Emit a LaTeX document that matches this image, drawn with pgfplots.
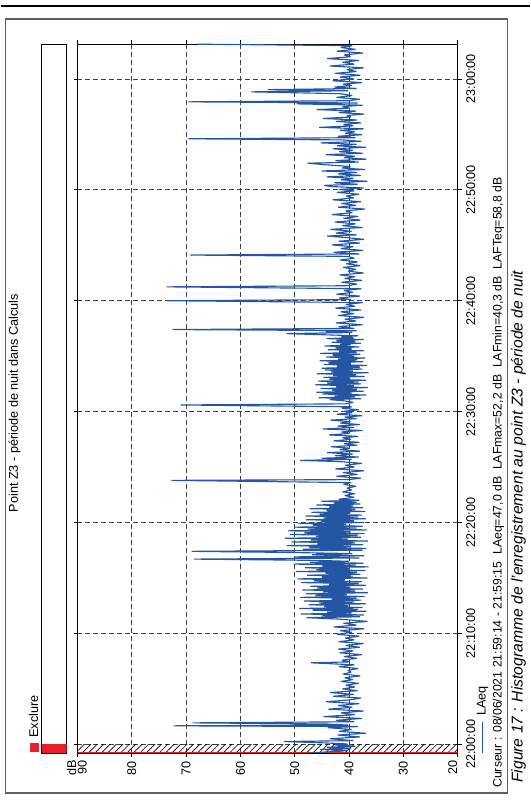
\documentclass[border=0pt]{standalone}
\usepackage{fontspec}
\setmainfont{Liberation Sans}
\usepackage{pgfplots}
\pgfplotsset{compat=1.18}
\usetikzlibrary{patterns.meta}
\definecolor{lineblue}{HTML}{2456A4}
\definecolor{exred}{HTML}{E8202A}
\definecolor{gridgrey}{HTML}{404040}
\definecolor{framegrey}{HTML}{606060}

\begin{document}
\rotatebox{90}{%
\begin{tikzpicture}
\begin{scope}[x=0.75pt,y=0.75pt]
\path[use as bounding box] (0,0) rectangle (803,529);
\end{scope}

% main LAeq chart
\begin{axis}[
  at={(37.5pt,54pt)}, anchor=south west,
  scale only axis, width=531.75pt, height=285pt,
  xmin=-47, xmax=3789, ymin=20, ymax=90,
  xtick={0,600,...,3600},
  xticklabels={22:00:00,22:10:00,22:20:00,22:30:00,22:40:00,22:50:00,23:00:00},
  ytick={20,30,...,90},
  yticklabels={,30,40,50,60,70,80,},
  grid=major,
  grid style={gridgrey, line width=0.6pt, dash pattern=on 3.75pt off 2.25pt},
  tick align=outside, major tick length=3pt,
  tick style={black, line width=0.5pt},
  axis line style={black, line width=0.6pt},
  tick label style={font=\fontsize{9.5}{11}\selectfont},
  /pgf/number format/assume math mode=true,
]
\addplot[draw=none, pattern={Lines[angle=45,distance=3.4pt,line width=0.5pt]}]
  coordinates {(-47,20) (0,20) (0,90) (-47,90)} -- cycle;
\addplot[exred, line width=0.9pt] coordinates {(-46,20) (-46,90)};
\addplot[lineblue, line width=0.85pt, line join=bevel] coordinates {
(-46,47.0) (-40,43.2) (-34,40.1) (-28,45.3) (-22,39.6) (-16,44.0) (-10,38.8) (-4,42.5)
(2,40.3) (8,44.8) (15,52.0) (20,39.2) (30,43.5) (40,38.0) (50,42.1) (60,36.9) (70,41.8)
(80,39.5) (90,43.9) (96,38.3) (100,72.3) (104,40.1) (110,44.3) (116,68.8) (122,39.0)
(130,42.4) (140,37.6) (150,44.7) (160,38.9) (170,41.5) (180,37.3) (190,43.8) (200,39.4)
(210,42.0) (220,38.1) (230,44.2) (240,40.0) (250,37.8) (260,42.9) (270,39.1) (280,43.5)
(290,38.4) (300,41.2) (310,38.9) (320,40.6) (330,38.2) (340,41.5) (350,39.3) (360,40.8)
(370,37.9) (380,41.1) (390,39.6) (400,40.2) (410,38.3) (420,41.8) (430,39.0) (441,47.0)
(446,39.8) (455,41.3) (465,38.5) (475,40.9) (485,37.6) (495,41.7) (505,39.2) (515,42.0)
(525,38.0) (535,40.6) (545,37.3) (555,41.9) (565,39.0) (575,40.7) (585,38.1) (595,42.2)
(606,39.5) (615,41.6) (625,37.2) (635,42.8) (645,38.6) (655,41.0) (665,36.6) (678,42.1)
(685,47.8) (690,38.0) (695,45.1) (700,37.2) (705,48.9) (710,39.5) (715,44.0) (720,36.8)
(725,46.7) (730,38.3) (735,49.2) (740,37.5) (745,44.6) (750,40.1) (755,47.4) (760,36.9)
(765,45.5) (770,39.0) (775,48.3) (780,37.7) (785,43.2) (790,38.6) (795,49.0) (800,37.1)
(805,46.2) (810,40.4) (815,47.9) (820,36.5) (825,44.8) (830,38.8) (835,48.6) (840,37.4)
(845,45.9) (850,39.8) (855,47.1) (860,36.9) (865,43.7) (870,38.2) (875,48.8) (880,37.6)
(885,46.4) (890,40.7) (895,49.5) (900,36.6) (905,45.0) (910,39.3) (915,47.7) (920,37.9)
(925,44.3) (930,38.5) (935,49.8) (940,37.0) (945,46.0) (950,39.9) (955,48.1) (960,36.4)
(965,44.9) (970,38.7) (975,50.2) (980,37.3) (985,47.2) (990,40.0) (995,45.6) (1002,68.5)
(1008,38.1) (1014,49.9) (1020,37.2) (1026,46.8) (1032,39.4) (1038,51.0) (1044,69.0)
(1050,37.5) (1055,48.5) (1060,36.8) (1065,47.3) (1070,39.6) (1075,51.5) (1080,37.4)
(1085,45.8) (1090,38.9) (1095,50.6) (1100,36.5) (1105,47.0) (1110,40.2) (1115,51.8)
(1120,37.8) (1125,46.1) (1130,38.4) (1135,50.9) (1140,37.1) (1145,48.2) (1150,39.7)
(1155,51.2) (1160,36.7) (1165,47.6) (1170,38.6) (1175,50.0) (1180,37.5) (1185,46.6)
(1190,40.5) (1195,49.3) (1200,37.2) (1205,45.2) (1210,39.1) (1215,47.9) (1220,36.9)
(1225,44.7) (1230,38.3) (1235,48.0) (1240,37.6) (1245,45.4) (1250,39.8) (1255,46.9)
(1260,37.0) (1265,44.1) (1270,38.8) (1275,47.3) (1280,37.4) (1285,43.6) (1290,39.2)
(1295,46.0) (1300,37.9) (1305,42.8) (1310,38.6) (1315,45.1) (1320,38.1) (1326,41.9)
(1336,39.0) (1346,40.8) (1356,38.9) (1366,41.2) (1376,39.5) (1386,40.4) (1396,38.7)
(1406,41.0) (1416,39.6) (1428,72.7) (1432,40.2) (1440,37.8) (1450,42.3) (1460,38.4)
(1470,41.1) (1480,37.2) (1490,42.5) (1500,39.0) (1510,40.7) (1520,37.6) (1530,41.9)
(1536,49.0) (1542,39.5) (1548,45.0) (1554,38.2) (1562,42.6) (1570,39.3) (1578,44.0)
(1586,38.0) (1594,41.7) (1602,39.8) (1610,43.3) (1618,38.5) (1626,40.9) (1634,38.1)
(1642,42.8) (1650,39.6) (1658,41.2) (1666,38.3) (1674,43.7) (1682,39.9) (1690,41.4)
(1698,37.5) (1706,44.8) (1714,39.1) (1722,42.1) (1730,38.0) (1738,41.6) (1746,39.7)
(1754,43.4) (1762,38.6) (1770,40.8) (1778,37.6) (1786,42.2) (1794,39.4) (1802,40.9)
(1810,38.2) (1818,41.3) (1826,39.5) (1836,71.0) (1842,40.6) (1850,39.2) (1858,40.8)
(1865,43.5) (1870,37.8) (1875,45.6) (1880,38.9) (1885,42.7) (1890,36.8) (1895,44.9)
(1900,39.4) (1905,46.0) (1910,37.3) (1915,43.1) (1920,38.5) (1925,45.2) (1930,36.5)
(1935,42.4) (1940,39.1) (1945,46.2) (1950,37.7) (1955,44.0) (1960,38.2) (1965,45.7)
(1970,36.9) (1975,43.6) (1980,39.8) (1985,44.7) (1990,37.1) (1995,42.9) (2000,38.7)
(2005,45.9) (2010,36.4) (2015,43.3) (2020,39.3) (2025,44.4) (2030,37.5) (2035,45.0)
(2040,38.0) (2045,42.2) (2050,36.7) (2055,44.6) (2060,39.6) (2065,43.8) (2070,37.4)
(2075,45.4) (2080,38.4) (2085,42.0) (2090,37.0) (2095,44.2) (2100,39.0) (2105,43.0)
(2110,37.9) (2115,45.3) (2120,38.6) (2125,41.8) (2130,37.2) (2135,43.9) (2140,39.5)
(2145,42.5) (2150,38.1) (2155,44.5) (2160,39.7) (2165,41.6) (2170,37.8) (2175,43.2)
(2180,38.8) (2185,42.3) (2190,37.3) (2195,44.1) (2200,39.2) (2205,41.4) (2210,38.3)
(2215,43.7) (2222,51.5) (2228,39.4) (2234,44.3) (2238,38.6) (2244,72.5) (2250,39.0)
(2260,41.9) (2270,37.5) (2280,42.4) (2290,38.7) (2300,40.8) (2310,37.2) (2320,42.0)
(2330,39.1) (2340,41.5) (2350,37.8) (2360,42.5) (2370,38.9) (2380,40.6) (2390,37.4)
(2400,73.6) (2406,39.6) (2415,41.8) (2425,38.0) (2435,42.3) (2445,39.3) (2455,40.9)
(2465,37.7) (2475,73.6) (2481,40.4) (2490,38.5) (2500,41.4) (2510,37.6) (2520,40.8)
(2530,38.9) (2540,41.7) (2550,37.3) (2560,40.2) (2570,38.7) (2580,41.1) (2590,37.9)
(2600,40.5) (2610,38.4) (2620,41.6) (2630,39.0) (2640,40.3) (2647,69.2) (2653,38.1)
(2662,42.8) (2672,37.4) (2682,41.5) (2692,39.2) (2702,43.1) (2712,38.0) (2722,41.9)
(2732,37.2) (2742,40.7) (2750,44.0) (2756,38.6) (2766,42.4) (2776,39.5) (2786,43.4)
(2796,37.5) (2806,41.2) (2816,38.8) (2826,42.6) (2836,37.9) (2846,41.0) (2856,38.3)
(2866,43.2) (2876,39.4) (2886,40.6) (2896,37.1) (2906,42.0) (2916,38.7) (2926,41.4)
(2936,37.8) (2946,43.0) (2956,39.1) (2966,40.5) (2976,38.2) (2986,42.2) (2994,39.0)
(3002,41.8) (3010,37.3) (3018,43.3) (3024,44.6) (3030,38.4) (3038,42.7) (3046,36.6)
(3054,41.5) (3062,39.2) (3070,44.1) (3078,37.8) (3086,42.0) (3094,38.5) (3102,45.0)
(3110,37.0) (3118,41.3) (3126,39.7) (3134,43.6) (3144,47.6) (3150,38.2) (3158,42.5)
(3166,36.8) (3174,40.9) (3182,38.9) (3190,44.3) (3198,37.5) (3206,41.8) (3214,39.3)
(3222,43.0) (3230,36.9) (3238,42.2) (3246,38.6) (3254,45.2) (3262,37.7) (3270,41.1)
(3276,69.6) (3282,38.8) (3290,42.0) (3298,37.6) (3306,40.7) (3314,38.9) (3322,41.6)
(3330,37.3) (3338,45.5) (3346,39.2) (3354,41.0) (3362,37.8) (3370,42.4) (3378,38.5)
(3386,44.8) (3394,39.6) (3402,40.4) (3410,37.2) (3418,41.9) (3426,38.7) (3434,46.0)
(3442,39.9) (3450,41.2) (3458,37.5) (3465,49.6) (3470,38.4) (3476,69.6) (3482,40.1)
(3490,38.0) (3500,42.3) (3510,39.4) (3520,41.5) (3530,58.0) (3536,40.2) (3542,55.0)
(3548,38.6) (3556,42.7) (3564,39.5) (3572,41.1) (3580,37.6) (3590,43.0) (3600,39.1)
(3610,41.7) (3620,37.9) (3630,42.6) (3640,38.6) (3650,40.4) (3660,37.3) (3670,43.5)
(3680,39.0) (3690,41.2) (3700,38.2) (3710,44.0) (3720,39.7) (3730,40.9) (3740,37.4)
(3750,42.2) (3760,38.8) (3770,41.5) (3780,39.4) (3788,68.0)
};
\end{axis}

% exclusion strip
\begin{axis}[
  at={(37.5pt,347.25pt)}, anchor=south west,
  scale only axis, width=531.75pt, height=18.75pt,
  xmin=-47, xmax=3789, ymin=0, ymax=1,
  xtick=\empty, ytick=\empty,
  axis line style={black, line width=0.6pt},
]
\addplot[fill=exred, draw=none] coordinates {(-47,0) (0,0) (0,1) (-47,1)} -- cycle;
\end{axis}

\begin{scope}[x=0.75pt,y=0.75pt, font=\fontsize{9.5}{11}\selectfont]
\draw[framegrey, line width=0.9pt] (10,22) rectangle (784,524);
\draw[black, line width=0.8pt] (797,0) -- (797,529);
\node at (400,515) {Point Z3 - période de nuit dans Calculs};
\fill[exred] (51,491) rectangle (60,500);
\node[anchor=west, inner sep=0pt] at (65,496) {Exclure};
\node[anchor=east, inner sep=0pt] at (43,458) {dB};
\node[anchor=north east, inner sep=0pt] at (43,452) {90};
\node[anchor=south east, inner sep=0pt] at (43,72) {20};
\draw[lineblue, line width=0.8pt] (50,47) -- (81,47);
\node[anchor=west, inner sep=0pt] at (87,47) {LAeq};
\node[anchor=west, inner sep=0pt, font=\fontsize{9.2}{11}\selectfont] at (15,31) {Curseur : 08/06/2021 21:59:14 - 21:59:15\ \ LAeq=47,0 dB\ \ LAFmax=52,2 dB\ \ LAFmin=40,3 dB\ \ LAFTeq=58,8 dB};
\node[anchor=west, inner sep=0pt, font=\fontsize{11.75}{14}\itshape] at (20,11) {Figure 17 : Histogramme de l'enregistrement au point Z3 - période de nuit};
\end{scope}
\end{tikzpicture}%
}
\end{document}
